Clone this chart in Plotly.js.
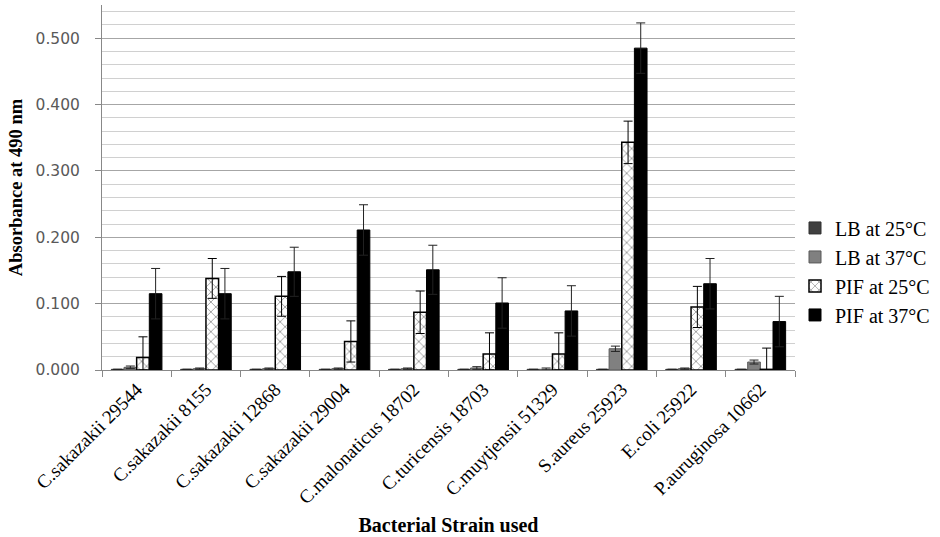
<!DOCTYPE html>
<html><head><meta charset="utf-8">
<script src="https://cdn.plot.ly/plotly-3.0.1.min.js"></script>
<style>html,body{margin:0;padding:0;background:#fff}#chart{width:940px;height:537px}</style>
</head><body><div id="chart"></div>
<script>
const strains = ["C.sakazakii 29544","C.sakazakii 8155","C.sakazakii 12868","C.sakazakii 29004","C.malonaticus 18702","C.turicensis 18703","C.muytjensii 51329","S.aureus 25923","E.coli 25922","P.auruginosa 10662"];
const lb25 = [0.001,0.001,0.001,0.001,0.001,0.001,0.001,0.001,0.001,0.001];
const lb25Err = [0,0,0,0,0,0,0,0,0,0];
const lb37 = [0.004,0.002,0.002,0.002,0.002,0.003,0.001,0.032,0.002,0.012];
const lb37Err = [0.002,0.001,0.001,0.001,0.001,0.002,0.002,0.004,0.001,0.003];
const pif25 = [0.019,0.138,0.111,0.043,0.087,0.024,0.024,0.343,0.095,0.001];
const pif25Err = [0.031,0.030,0.030,0.031,0.032,0.032,0.032,0.032,0.031,0.032];
const pif37 = [0.115,0.115,0.148,0.211,0.151,0.101,0.089,0.485,0.130,0.073];
const pif37Err = [0.038,0.038,0.037,0.038,0.037,0.038,0.038,0.038,0.038,0.038];

function minus(v,e){return v.map((x,i)=>Math.min(x,e[i]));}
function eb(v,e,col){return {type:'data',symmetric:false,array:e,arrayminus:minus(v,e),color:col,thickness:1,width:4.5};}

const serif = 'Liberation Serif, Times New Roman, serif';
const traces = [
 {type:'bar',name:'LB at 25°C',x:strains,y:lb25,marker:{color:'#404040',line:{color:'#303030',width:1}},error_y:eb(lb25,lb25Err,'#222')},
 {type:'bar',name:'LB at 37°C',x:strains,y:lb37,marker:{color:'#808080',line:{color:'#595959',width:1}},error_y:eb(lb37,lb37Err,'#222')},
 {type:'bar',name:'PIF at 25°C',x:strains,y:pif25,marker:{color:'#ffffff',line:{color:'#000',width:1.5},pattern:{shape:'x',fgcolor:'#555',bgcolor:'#fff',size:7,solidity:0.15}},error_y:eb(pif25,pif25Err,'#000')},
 {type:'bar',name:'PIF at 37°C',x:strains,y:pif37,marker:{color:'#000000',line:{color:'#000',width:1}},error_y:eb(pif37,pif37Err,'#222')}
];

const layout = {
 width:940,height:537,
 margin:{l:102,r:143,t:5,b:167},
 paper_bgcolor:'#fff',plot_bgcolor:'#fff',
 barmode:'group',bargap:0.27,bargroupgap:0,
 showlegend:true,
 legend:{x:1.0,y:0.27,xanchor:'left',yanchor:'middle',font:{family:serif,size:20,color:'#000'},tracegroupgap:0,itemwidth:30,bgcolor:'rgba(0,0,0,0)'},
 xaxis:{type:'category',tickangle:-45,tickson:'boundaries',ticks:'outside',ticklen:6,tickcolor:'#888',showline:true,linecolor:'#888',linewidth:1,
   tickfont:{family:serif,size:19,color:'#000'},
   title:{text:'<b>Bacterial Strain used</b>',font:{family:serif,size:20,color:'#000'},standoff:10},
   showgrid:false,zeroline:false,automargin:false},
 yaxis:{range:[0,0.55],dtick:0.1,tick0:0,tickformat:'.3f',ticks:'outside',ticklen:6,tickcolor:'#888',showline:true,linecolor:'#888',linewidth:1,
   ticklabelstandoff:12,
   tickfont:{family:'DejaVu Sans, sans-serif',size:15.5,color:'#595959'},
   showgrid:true,gridcolor:'#a6a6a6',gridwidth:1,zeroline:false,automargin:false,
   minor:{dtick:0.02,tick0:0,showgrid:true,gridcolor:'#d0d0d0',gridwidth:1},
   title:{text:'<b>Absorbance at 490 nm</b>',font:{family:serif,size:18.5,color:'#000'},standoff:8}}
};
Plotly.newPlot('chart',traces,layout,{displayModeBar:false,staticPlot:true});
</script></body></html>
